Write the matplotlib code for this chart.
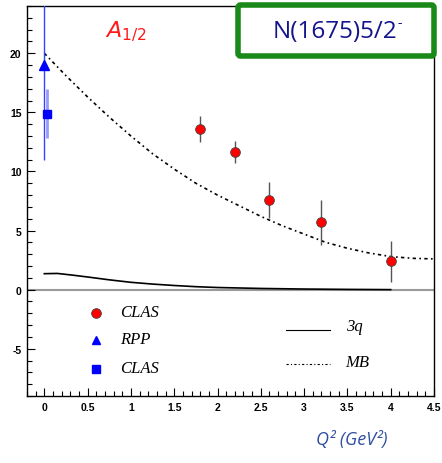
import matplotlib.pyplot as plt
from matplotlib.patches import FancyBboxPatch
from matplotlib.ticker import MultipleLocator, FuncFormatter

# CLAS points, A1/2 of N(1675)5/2-
clas_q2 = [1.8, 2.2, 2.6, 3.2, 4.0]
clas_a12 = [13.6, 11.65, 7.6, 5.7, 2.4]
clas_err = [1.1, 0.9, 1.55, 1.9, 1.75]

# photo point (RPP) and CLAS photo point
rpp_q2 = [0.0]
rpp_a12 = [19.0]
rpp_err = [8.0]
clas0_q2 = [0.035]
clas0_a12 = [14.9]
clas0_err = [2.1]

# meson-baryon model (MB)
mb_q2 = [0.0, 0.25, 0.5, 0.75, 1.0, 1.25, 1.5, 1.75, 2.0, 2.25, 2.5, 2.75,
         3.0, 3.25, 3.5, 3.75, 4.0, 4.25, 4.5]
mb_a12 = [20.0, 18.1, 16.3, 14.6, 13.0, 11.5, 10.2, 9.0, 8.0, 7.1, 6.2, 5.4,
          4.7, 4.0, 3.5, 3.1, 2.8, 2.65, 2.6]

# quark model (3q)
q3_q2 = [0.0, 0.15, 0.3, 0.5, 0.75, 1.0, 1.25, 1.5, 1.75, 2.0, 2.5, 3.0, 3.5, 4.0]
q3_a12 = [1.35, 1.37, 1.25, 1.07, 0.83, 0.62, 0.47, 0.35, 0.25, 0.18, 0.1, 0.05, 0.02, 0.0]

mb_style = (0, (2, 2, 1, 2))

fig = plt.figure(figsize=(4.42, 4.64), dpi=100)
ax = fig.add_axes([27 / 442, 1 - 397 / 464, 407 / 442, 390 / 464])

ax.axhline(0, color='#9a9a9a', lw=1.5, zorder=1)
ax.plot(mb_q2, mb_a12, color='black', lw=1.2, ls=mb_style, zorder=2)
ax.plot(q3_q2, q3_a12, color='black', lw=1.2, zorder=2)

ax.errorbar(clas_q2, clas_a12, yerr=clas_err, fmt='o', color='red', ms=7,
            mec='#444444', mew=0.6, ecolor='#555555', elinewidth=1, zorder=4)
ax.errorbar(rpp_q2, rpp_a12, yerr=rpp_err, fmt='^', color='blue', ms=7,
            ecolor='#3344ff', elinewidth=1, zorder=4)
ax.errorbar(clas0_q2, clas0_a12, yerr=clas0_err, fmt='s', color='blue', ms=6,
            ecolor='#9999ff', elinewidth=2, zorder=4)

# legend drawn inside the frame
leg_font = dict(family='Liberation Serif', style='italic', fontsize=12, va='center')
ax.plot([0.6], [-2.0], 'o', color='red', ms=7, mec='#444444', mew=0.6)
ax.plot([0.6], [-4.3], '^', color='blue', ms=6)
ax.plot([0.6], [-6.7], 's', color='blue', ms=5.5)
ax.text(0.87, -1.9, 'CLAS', **leg_font)
ax.text(0.87, -4.2, 'RPP', **leg_font)
ax.text(0.87, -6.6, 'CLAS', **leg_font)
ax.plot([2.79, 3.3], [-3.4, -3.4], color='black', lw=0.8)
ax.plot([2.79, 3.3], [-6.3, -6.3], color='black', lw=0.8, ls=mb_style)
ax.text(3.48, -3.1, '3q', **leg_font)
ax.text(3.48, -6.1, 'MB', **leg_font)

ax.text(0.695, 21.4, r'$\mathit{A_{1/2}}$', color='#ff1a1a', fontsize=16,
        ha='left', va='baseline')

ax.set_xlim(-0.2, 4.5)
ax.set_ylim(-9, 24)
ax.xaxis.set_major_locator(MultipleLocator(0.5))
ax.xaxis.set_minor_locator(MultipleLocator(0.1))
ax.yaxis.set_major_locator(MultipleLocator(5))
ax.yaxis.set_minor_locator(MultipleLocator(1))
ax.xaxis.set_major_formatter(FuncFormatter(lambda v, p: '%g' % v))
ax.yaxis.set_major_formatter(FuncFormatter(lambda v, p: '%g' % v))
ax.tick_params(which='both', direction='in', top=False, right=False,
               labelsize=7.5, pad=4)
ax.tick_params(which='major', length=6, width=0.8)
ax.tick_params(which='minor', length=3.5, width=0.8)
for lab in ax.get_xticklabels() + ax.get_yticklabels():
    lab.set_fontweight('bold')
    lab.set_family('Liberation Sans')
for s in ax.spines.values():
    s.set_linewidth(1.0)

# state name box
box = FancyBboxPatch((238 / 442, 1 - 57 / 464), 196 / 442, 51 / 464,
                     boxstyle='round,pad=0,rounding_size=0.006',
                     transform=fig.transFigure, facecolor='white',
                     edgecolor='#198a19', lw=4, zorder=10)
fig.patches.append(box)
fig.text(335 / 442, 1 - 32 / 464, 'N(1675)5/2', color='#14148c',
         fontsize=17.5, family='Open Sans', ha='center', va='center', zorder=11)
fig.text(397 / 442, 1 - 23 / 464, '-', color='#14148c',
         fontsize=10, family='Open Sans', ha='left', va='center', zorder=11)

fig.text(352 / 442, 1 - 440 / 464, 'Q² (GeV²)', color='#2f4f9f', fontsize=13,
         family='Open Sans', style='italic', ha='center', va='center')

fig.savefig('out.png', dpi=100)
